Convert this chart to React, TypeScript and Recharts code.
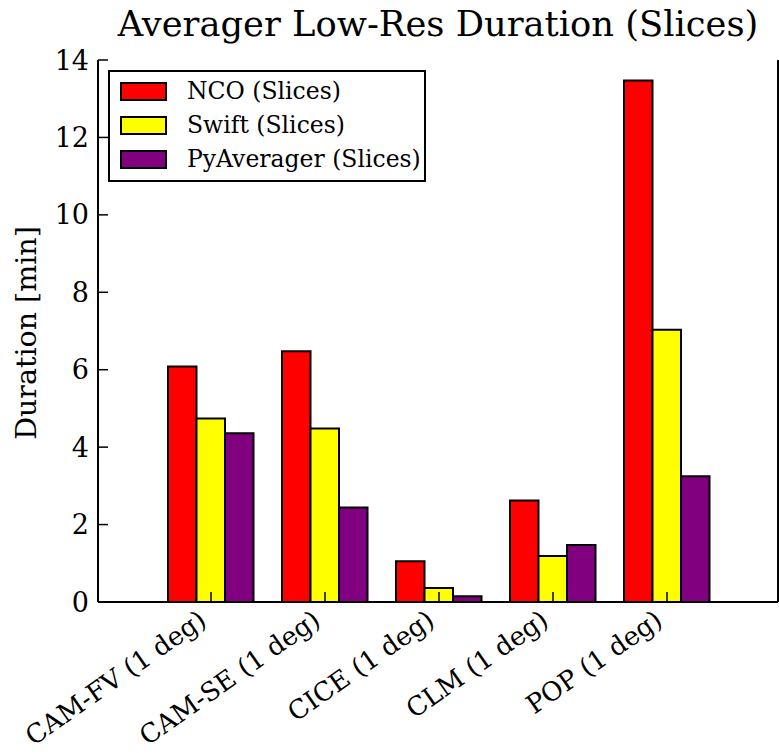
import React from 'react';
import { BarChart, Bar, XAxis, YAxis, Legend } from 'recharts';

const categories = ['CAM-FV (1 deg)', 'CAM-SE (1 deg)', 'CICE (1 deg)', 'CLM (1 deg)', 'POP (1 deg)'];
const ncoValues = [6.08, 6.48, 1.05, 2.62, 13.47];
const swiftValues = [4.74, 4.48, 0.36, 1.19, 7.03];
const pyAveragerValues = [4.36, 2.44, 0.15, 1.47, 3.25];
const yTicks = [0, 2, 4, 6, 8, 10, 12, 14];

const series = [
  { key: 'nco', name: 'NCO (Slices)', color: '#ff0000', values: ncoValues },
  { key: 'swift', name: 'Swift (Slices)', color: '#ffff00', values: swiftValues },
  { key: 'py', name: 'PyAverager (Slices)', color: '#800080', values: pyAveragerValues },
];

const data = categories.map((name, i) => {
  const row: Record<string, string | number> = { name };
  series.forEach(s => { row[s.key] = s.values[i]; });
  return row;
});

const FONT = '"DejaVu Serif", serif';

const XTick = (props: any) => {
  const { x, payload, y } = props;
  return (
    <text
      x={0}
      y={0}
      transform={`translate(${x - 3}, ${y + 22}) rotate(-35)`}
      textAnchor="end"
      fontFamily={FONT}
      fontSize={26}
      fill="#000"
    >
      {payload.value}
    </text>
  );
};

const LegendBox = () => (
  <div
    style={{
      position: 'absolute',
      left: 108,
      top: 70,
      width: 314,
      height: 108,
      border: '2px solid #000',
      background: '#fff',
      fontFamily: FONT,
      fontSize: 23.5,
      boxSizing: 'content-box',
    }}
  >
    {series.map((s, i) => (
      <div
        key={s.key}
        style={{ position: 'absolute', left: 10, top: 8 + i * 34, height: 22, display: 'flex', alignItems: 'center' }}
      >
        <span
          style={{
            display: 'inline-block',
            width: 43,
            height: 15,
            background: s.color,
            border: '2px solid #000',
          }}
        />
        <span style={{ marginLeft: 20, whiteSpace: 'nowrap', lineHeight: '22px' }}>{s.name}</span>
      </div>
    ))}
  </div>
);

const App: React.FC = () => {
  return (
    <div style={{ position: 'absolute', left: 0, top: 0, width: 779, height: 753, background: '#fff' }}>
      <div
        style={{
          position: 'absolute',
          left: 98,
          width: 680,
          top: 3,
          textAlign: 'center',
          fontFamily: FONT,
          fontSize: 35.3,
          lineHeight: '42px',
          color: '#000',
        }}
      >
        Averager Low-Res Duration (Slices)
      </div>
      <div
        style={{
          position: 'absolute',
          left: 26,
          top: 333,
          transform: 'translate(-50%, -50%) rotate(-90deg)',
          fontFamily: FONT,
          fontSize: 28.5,
          whiteSpace: 'nowrap',
          color: '#000',
        }}
      >
        Duration [min]
      </div>
      <BarChart
        width={779}
        height={753}
        data={data}
        margin={{ top: 60, right: 0, bottom: 0, left: 0 }}
        barGap={0}
        barSize={28.5}
      >
        <XAxis
          dataKey="name"
          xAxisId={0}
          height={151}
          padding={{ left: 56, right: 54 }}
          axisLine={{ stroke: '#000', strokeWidth: 2 }}
          tickLine={{ stroke: '#000', strokeWidth: 1.5 }}
          tickSize={-10}
          tickMargin={10}
          tick={<XTick />}
          interval={0}
        />
        <XAxis
          dataKey="name"
          xAxisId="top"
          orientation="top"
          height={0}
          padding={{ left: 56, right: 54 }}
          axisLine={{ stroke: '#000', strokeWidth: 2 }}
          tickLine={{ stroke: '#000', strokeWidth: 1.5 }}
          tickSize={-10}
          tick={false}
          interval={0}
        />
        <YAxis
          yAxisId={0}
          width={98}
          domain={[0, 14]}
          ticks={yTicks}
          interval={0}
          axisLine={{ stroke: '#000', strokeWidth: 2 }}
          tickLine={{ stroke: '#000', strokeWidth: 1.5 }}
          tickSize={-10}
          tickMargin={19}
          tick={{ fill: '#000', fontFamily: FONT, fontSize: 27 }}
        />
        <YAxis
          yAxisId="right"
          orientation="right"
          width={1}
          domain={[0, 14]}
          ticks={yTicks}
          interval={0}
          axisLine={{ stroke: '#000', strokeWidth: 2 }}
          tickLine={{ stroke: '#000', strokeWidth: 1.5 }}
          tickSize={-10}
          tick={false}
        />
        <Legend content={<LegendBox />} wrapperStyle={{ position: 'absolute', left: 0, top: 0, width: 0, height: 0 }} />
        {series.map(s => (
          <Bar
            key={s.key}
            dataKey={s.key}
            name={s.name}
            fill={s.color}
            stroke="#000"
            strokeWidth={2}
            isAnimationActive={false}
          />
        ))}
      </BarChart>
    </div>
  );
};

export default App;
